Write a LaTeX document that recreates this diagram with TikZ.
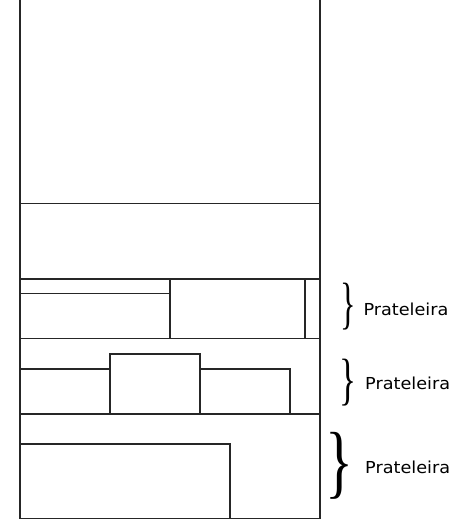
\documentclass[tikz,border=0pt]{standalone}
\usepackage{fontspec}
\usepackage{graphicx}
\newfontfamily\labelfont[FakeStretch=1.07]{DejaVu Sans}
\newfontfamily\bracefont{Liberation Serif}
\tikzset{
  wall/.style={line width=1.1pt, draw=black!85},
  lbl/.style={anchor=base west, inner sep=0pt, font=\labelfont\fontsize{16.5}{19}\selectfont},
  brc/.style={inner sep=0pt, anchor=center}
}
\begin{document}
\begin{tikzpicture}[x=1pt,y=-1pt]
\useasboundingbox (0,0) rectangle (459,532);
% cabinet
\draw[wall] (20,0) -- (20,518.5) -- (320,518.5) -- (320,0);
\draw[wall] (20,203.5) -- (320,203.5);
\draw[wall] (20,279) -- (320,279);
\draw[wall] (20,338.5) -- (320,338.5);
\draw[wall] (20,414) -- (320,414);
% shelf 1 items
\draw[wall] (20,293.5) -- (170,293.5);
\draw[wall] (170,279) -- (170,338.5);
\draw[wall] (305,279) -- (305,338.5);
% shelf 2 items
\draw[wall] (20,369) -- (110,369);
\draw[wall] (110,414) -- (110,354) -- (200,354) -- (200,414);
\draw[wall] (200,369) -- (290,369) -- (290,414);
% shelf 3 items
\draw[wall] (20,444) -- (230,444) -- (230,518.5);
% braces
\node[brc] (b1) at (348.5,306.5) {\resizebox*{15.5pt}{47pt}{\bracefont\}}};
\node[brc] (b2) at (347.5,382.7) {\resizebox*{17pt}{47pt}{\bracefont\}}};
\node[brc] (b3) at (339,466.3) {\resizebox*{28pt}{67pt}{\bracefont\}}};
% labels
\node[lbl] (t1) at (363.3,315.7) {Prateleira};
\node[lbl] (t2) at (365,389.3) {Prateleira};
\node[lbl] (t3) at (365,473.3) {Prateleira};
\end{tikzpicture}
\end{document}
